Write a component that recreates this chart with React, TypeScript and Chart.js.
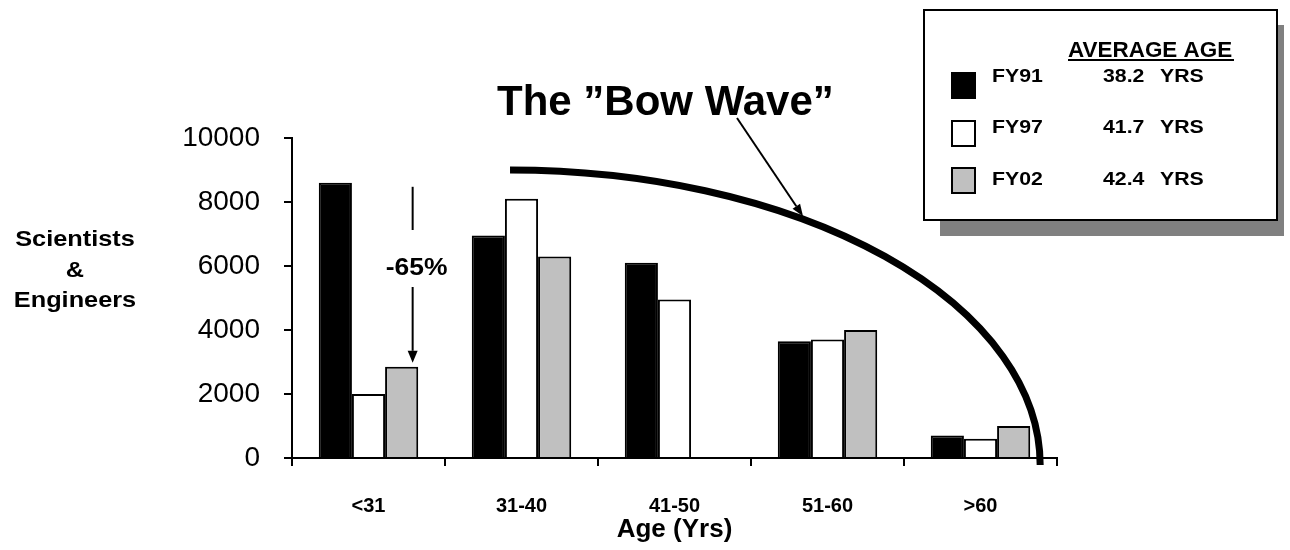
import React, { useEffect, useRef } from 'react';
import { Chart, registerables } from 'chart.js';

Chart.register(...registerables);

const categories = ['<31', '31-40', '41-50', '51-60', '>60'];
const seriesNames = ['FY91', 'FY97', 'FY02'];
const averageAges = ['38.2', '41.7', '42.4'];
const fy91 = [8600, 6950, 6100, 3650, 700];
const fy97 = [2000, 8100, 4950, 3700, 600];
const fy02 = [2850, 6300, null, 4000, 1000];
const yTicks = [0, 2000, 4000, 6000, 8000, 10000];
const yTitleLines = ['Scientists', '&', 'Engineers'];
const xTitle = 'Age (Yrs)';
const chartTitle = 'The \u201DBow Wave\u201D';
const dropLabel = '-65%';
const legendHeader = 'AVERAGE AGE';
const yearUnit = 'YRS';

const FAMILY = '"Liberation Sans", Arial, Helvetica, sans-serif';
const fills = ['#000000', '#ffffff', '#c0c0c0'];

function drawText(
  ctx: CanvasRenderingContext2D,
  s: string,
  x: number,
  y: number,
  size: number,
  align: CanvasTextAlign,
  sx = 1,
  bold = true
) {
  ctx.save();
  ctx.font = `${bold ? 'bold ' : ''}${size}px ${FAMILY}`;
  ctx.textAlign = align;
  ctx.textBaseline = 'alphabetic';
  ctx.fillStyle = '#000';
  ctx.translate(x, y);
  ctx.scale(sx, 1);
  ctx.fillText(s, 0, 0);
  ctx.restore();
}

function arrow(
  ctx: CanvasRenderingContext2D,
  x1: number,
  y1: number,
  x2: number,
  y2: number,
  lw: number,
  headLen: number,
  headW: number
) {
  const a = Math.atan2(y2 - y1, x2 - x1);
  const bx = x2 - headLen * Math.cos(a);
  const by = y2 - headLen * Math.sin(a);
  ctx.save();
  ctx.strokeStyle = '#000';
  ctx.fillStyle = '#000';
  ctx.lineWidth = lw;
  ctx.beginPath();
  ctx.moveTo(x1, y1);
  ctx.lineTo(bx, by);
  ctx.stroke();
  ctx.beginPath();
  ctx.moveTo(x2, y2);
  ctx.lineTo(bx + (headW / 2) * Math.sin(a), by - (headW / 2) * Math.cos(a));
  ctx.lineTo(bx - (headW / 2) * Math.sin(a), by + (headW / 2) * Math.cos(a));
  ctx.closePath();
  ctx.fill();
  ctx.restore();
}

const annotations = {
  id: 'annotations',
  afterDraw(chart: any) {
    const ctx: CanvasRenderingContext2D = chart.ctx;
    const xs = chart.scales.x;
    const ys = chart.scales.y;
    const catW = (xs.right - xs.left) / categories.length;
    const ux = (u: number) => xs.left + u * catW;

    // Bow wave curve (quarter ellipse)
    const cx = ux(1.425);
    const rx = ux(4.89) - cx;
    const cy = ys.getPixelForValue(-220);
    const ry = cy - ys.getPixelForValue(9000);
    ctx.save();
    ctx.strokeStyle = '#000';
    ctx.lineWidth = 7;
    ctx.lineCap = 'butt';
    ctx.beginPath();
    ctx.ellipse(cx, cy, rx, ry, 0, -Math.PI / 2, 0, false);
    ctx.stroke();
    ctx.restore();

    // Title
    drawText(ctx, chartTitle, 497, 115, 42, 'left');

    // pointer arrow from title to curve
    const px = ux(3.34);
    const th = Math.acos((px - cx) / rx);
    const py = cy - ry * Math.sin(th) - 3;
    arrow(ctx, 737, 118, px, py, 2, 12, 9);

    // -65% drop annotation
    const gbar = chart.getDatasetMeta(2).data[0];
    const ax = gbar.x + 11;
    const topY = ys.getPixelForValue(fy91[0]) + 4;
    const tipY = ys.getPixelForValue(fy02[0] as number) - 4;
    ctx.save();
    ctx.strokeStyle = '#000';
    ctx.lineWidth = 2;
    ctx.beginPath();
    ctx.moveTo(ax, topY);
    ctx.lineTo(ax, 230);
    ctx.stroke();
    ctx.restore();
    arrow(ctx, ax, 287, ax, tipY, 2, 12, 10);
    drawText(ctx, dropLabel, ax + 4, 275, 23, 'center', 1.15);

    // Y title
    const yb = [246, 277, 307];
    yTitleLines.forEach((l, i) => drawText(ctx, l, 75, yb[i], 22, 'center', 1.15));

    // Legend box
    ctx.save();
    ctx.fillStyle = '#808080';
    ctx.fillRect(940, 25, 344, 211);
    ctx.fillStyle = '#ffffff';
    ctx.fillRect(924, 10, 353, 210);
    ctx.strokeStyle = '#000';
    ctx.lineWidth = 2;
    ctx.strokeRect(924, 10, 353, 210);
    ctx.restore();

    drawText(ctx, legendHeader, 1068, 57, 22, 'left', 1.02);
    ctx.save();
    ctx.fillStyle = '#000';
    ctx.fillRect(1068, 59, 166, 2);
    ctx.restore();

    const rowBase = [82, 133, 185];
    const sqTop = [73, 121, 168];
    seriesNames.forEach((name, i) => {
      ctx.save();
      ctx.fillStyle = fills[i];
      ctx.fillRect(952, sqTop[i], 23, 25);
      ctx.strokeStyle = '#000';
      ctx.lineWidth = 2;
      ctx.strokeRect(952, sqTop[i], 23, 25);
      ctx.restore();
      drawText(ctx, name, 992, rowBase[i], 19, 'left', 1.12);
      drawText(ctx, averageAges[i], 1103, rowBase[i], 19, 'left', 1.12);
      drawText(ctx, yearUnit, 1160, rowBase[i], 19, 'left', 1.12);
    });
  },
};

export default function App() {
  const ref = useRef<HTMLCanvasElement | null>(null);

  useEffect(() => {
    document.body.style.margin = '0';
    const canvas = ref.current;
    if (!canvas) return;
    const chart = new Chart(canvas, {
      type: 'bar',
      data: {
        labels: categories,
        datasets: [fy91, fy97, fy02].map((d, i) => ({
          label: seriesNames[i],
          data: d,
          backgroundColor: fills[i],
          borderColor: '#000000',
          borderWidth: 2,
          categoryPercentage: 0.65,
          barPercentage: 1.0,
        })),
      },
      options: {
        responsive: false,
        animation: false,
        devicePixelRatio: 1,
        layout: { padding: { left: 0, right: 233, top: 138, bottom: 0 } },
        plugins: {
          legend: { display: false },
          tooltip: { enabled: false },
          title: { display: false },
        },
        scales: {
          x: {
            offset: true,
            grid: {
              offset: true,
              drawOnChartArea: false,
              drawTicks: true,
              tickLength: 8,
              color: '#000',
              lineWidth: 2,
            },
            border: { display: true, color: '#000', width: 2 },
            ticks: {
              color: '#000',
              padding: 28,
              font: { family: FAMILY, size: 20, weight: 'bold' },
              maxRotation: 0,
            },
            title: {
              display: true,
              text: xTitle,
              color: '#000',
              font: { family: FAMILY, size: 26, weight: 'bold' },
              padding: { top: 0, bottom: 5 },
            },
            afterFit: (s: any) => {
              s.height = 92;
            },
          },
          y: {
            min: 0,
            max: 10000,
            afterBuildTicks: (s: any) => {
              s.ticks = yTicks.map((v) => ({ value: v }));
            },
            grid: {
              drawOnChartArea: false,
              drawTicks: true,
              tickLength: 8,
              color: '#000',
              lineWidth: 2,
            },
            border: { display: true, color: '#000', width: 2 },
            ticks: {
              color: '#000',
              padding: 24,
              font: { family: FAMILY, size: 28 },
              callback: (v: any) => String(v),
            },
            afterFit: (s: any) => {
              s.width = 292;
            },
          },
        },
      },
      plugins: [annotations],
    });
    return () => chart.destroy();
  }, []);

  return (
    <div style={{ position: 'absolute', left: 0, top: 0, width: 1290, height: 550, background: '#fff' }}>
      <canvas ref={ref} width={1290} height={550} />
    </div>
  );
}
